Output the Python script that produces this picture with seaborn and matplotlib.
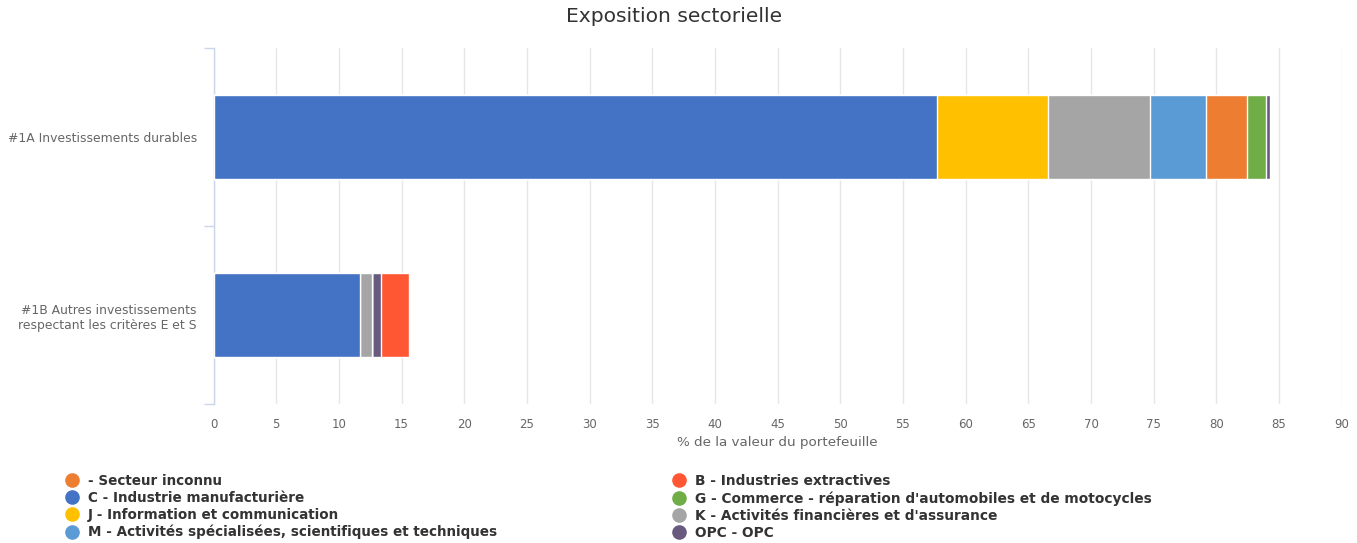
import matplotlib
matplotlib.use("Agg")
import matplotlib.pyplot as plt
from matplotlib.lines import Line2D
import seaborn as sns
import pandas as pd
import numpy as np

categories = ["#1A Investissements durables",
              "#1B Autres investissements\nrespectant les critères E et S"]

# stacking order (left to right)
series_names = ["C - Industrie manufacturière",
                "J - Information et communication",
                "K - Activités financières et d'assurance",
                "M - Activités spécialisées, scientifiques et techniques",
                "- Secteur inconnu",
                "G - Commerce - réparation d'automobiles et de motocycles",
                "OPC - OPC",
                "B - Industries extractives"]
values_1A = [57.7, 8.85, 8.15, 4.45, 3.3, 1.55, 0.25, 0.0]
values_1B = [11.7, 0.0, 0.93, 0.0, 0.0, 0.0, 0.72, 2.26]
series_colors = ["#4472C4", "#FFC000", "#A5A5A5", "#5B9BD5",
                 "#ED7D31", "#70AD47", "#675A7E", "#FF5733"]

legend_col1 = ["- Secteur inconnu", "C - Industrie manufacturière",
               "J - Information et communication",
               "M - Activités spécialisées, scientifiques et techniques"]
legend_col2 = ["B - Industries extractives",
               "G - Commerce - réparation d'automobiles et de motocycles",
               "K - Activités financières et d'assurance", "OPC - OPC"]

sns.set_theme(style="white")
plt.rcParams['font.family'] = ['DejaVu Sans']

fig = plt.figure(figsize=(13.57, 5.43), dpi=100)
ax = fig.add_axes([213.5/1357, 1-404/543, (1341.7-213.5)/1357, (404-48.3)/543])

df = pd.DataFrame({"category": np.repeat(categories, len(series_names)),
                   "series": series_names * 2,
                   "value": values_1A + values_1B})
df["cum"] = df.groupby("category")["value"].cumsum()

# draw cumulative bars from the largest to the smallest
for name, col in reversed(list(zip(series_names, series_colors))):
    sub = df[df["series"] == name]
    sns.barplot(data=sub, x="cum", y="category", order=categories, color=col,
                orient="h", width=0.47, edgecolor="white", linewidth=1.0,
                saturation=1, ax=ax, zorder=3)

ax.set_xlim(0, 90)
ax.set_ylim(1.5, -0.5)
ax.set_xticks(np.arange(0, 91, 5))
ax.xaxis.grid(True, color="#e6e6e6", linewidth=1, zorder=0)
ax.yaxis.grid(False)
ax.set_axisbelow(True)
for s in ["top", "right", "bottom"]:
    ax.spines[s].set_visible(False)
ax.spines["left"].set_color("#ccd6eb")
ax.spines["left"].set_linewidth(1)

ax.set_yticks([0, 1])
ax.set_yticklabels(categories, fontsize=8.9, color="#666666", ha="right",
                   multialignment="right")
ax.set_yticks([-0.5, 0.5, 1.5], minor=True)
ax.tick_params(axis="y", which="major", length=0, pad=12)
ax.tick_params(axis="y", which="minor", length=7.5, color="#ccd6eb", width=1, left=True)
ax.tick_params(axis="x", length=0, pad=10, labelsize=8.5, labelcolor="#666666")
ax.set_xlabel("% de la valeur du portefeuille", fontsize=9.7, color="#666666", labelpad=4)
ax.set_ylabel("")

fig.text(674/1357, 1-17/543, "Exposition sectorielle", ha="center", va="center",
         fontsize=14.6, color="#333333")

cmap = dict(zip(series_names, series_colors))

def make_handles(names):
    return [Line2D([0], [0], marker="o", linestyle="", markersize=9.5,
                   markerfacecolor=cmap[n], markeredgecolor=cmap[n]) for n in names]

for names, x0, fs in [(legend_col1, 64, 9.75), (legend_col2, 671, 9.9)]:
    leg = fig.legend(make_handles(names), names, loc="upper left",
                     bbox_to_anchor=(x0/1357, 1-474/543), frameon=False,
                     prop={"size": fs, "weight": "bold"}, labelspacing=0.22,
                     handletextpad=0.55, handlelength=1.2, borderpad=0, borderaxespad=0)
    for t in leg.get_texts():
        t.set_color("#333333")

fig.savefig("out.png", dpi=100, facecolor="white")
